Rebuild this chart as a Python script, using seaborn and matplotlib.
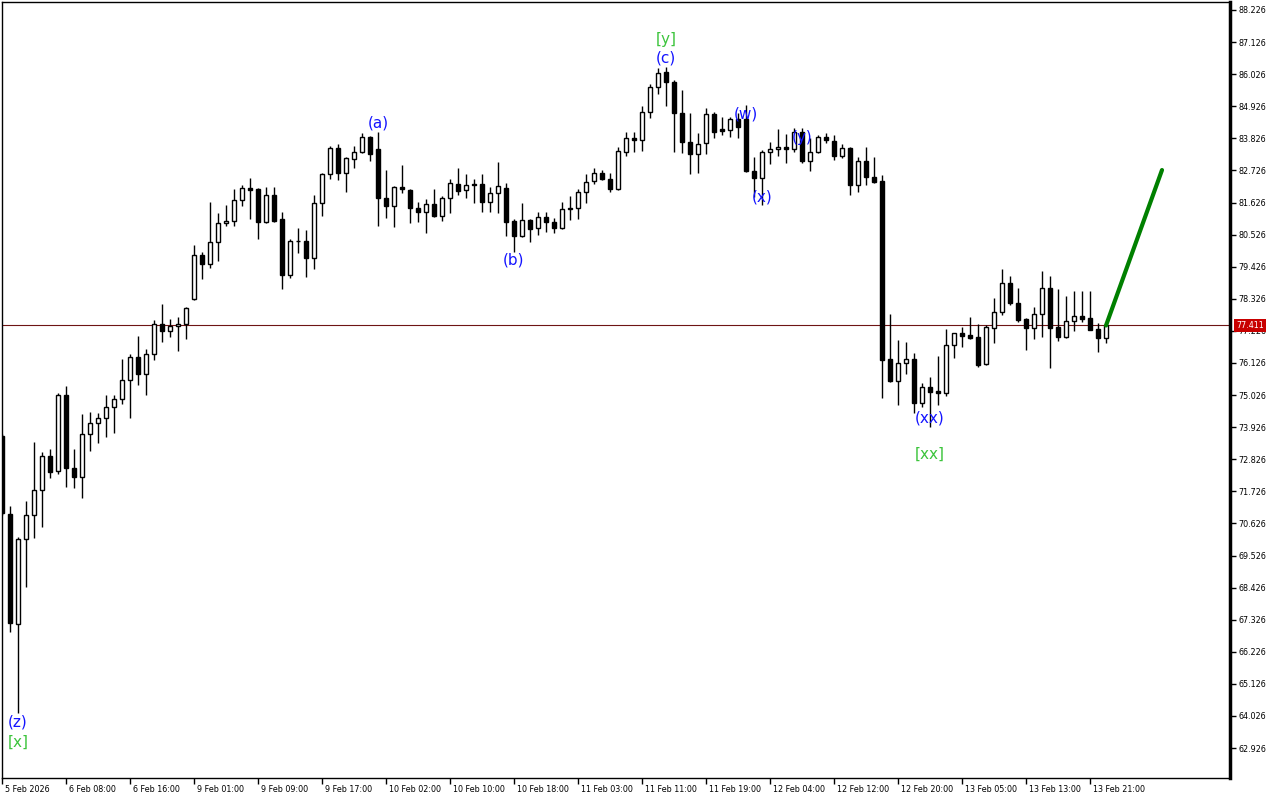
import matplotlib
matplotlib.use("Agg")
import matplotlib.pyplot as plt
import matplotlib.transforms as mtransforms
import seaborn as sns
import numpy as np
import pandas as pd

# ------------------ Data (hourly candles) ------------------
opens = [73.62, 70.95, 67.18, 70.09, 70.91, 71.77, 72.94, 72.42, 75.03, 72.53,
         72.22, 73.69, 74.07, 74.24, 74.62, 74.89, 75.54, 76.33, 75.75, 76.43,
         77.46, 77.22, 77.39, 77.46, 78.32, 79.83, 79.52, 80.27, 80.92, 80.99,
         81.71, 82.13, 82.09, 80.96, 81.88, 81.06, 79.14, 80.31, 80.31, 79.72,
         81.61, 82.60, 83.50, 82.64, 83.12, 83.36, 83.87, 83.46, 81.78, 81.51,
         82.16, 82.06, 81.44, 81.30, 81.58, 81.16, 81.78, 82.26, 82.06, 82.26,
         82.26, 81.64, 81.95, 82.12, 80.99, 80.48, 81.03, 80.75, 81.13, 80.96,
         80.75, 81.44, 81.44, 81.99, 82.36, 82.64, 82.43, 82.09, 83.36, 83.84,
         83.77, 84.73, 85.59, 86.10, 85.76, 84.70, 83.70, 83.29, 83.67, 84.66,
         84.15, 84.11, 84.49, 84.49, 82.71, 82.47, 83.36, 83.46, 83.53, 83.46,
         84.04, 83.05, 83.36, 83.87, 83.74, 83.22, 83.50, 82.23, 83.05, 82.50,
         82.36, 76.26, 75.51, 76.13, 76.26, 74.75, 75.30, 75.17, 75.10, 76.74,
         77.15, 77.08, 77.02, 76.09, 77.33, 77.87, 78.87, 78.18, 77.63, 77.33,
         77.81, 78.70, 77.36, 77.02, 77.57, 77.74, 77.67, 77.29, 76.98]
highs = [73.69, 71.22, 70.16, 71.39, 73.42, 73.07, 73.18, 75.10, 75.34, 73.18,
         74.38, 74.44, 74.41, 75.03, 75.03, 76.26, 76.43, 77.05, 76.60, 77.60,
         78.15, 77.63, 77.70, 78.05, 80.17, 79.93, 81.64, 81.27, 81.54, 82.09,
         82.23, 82.47, 82.12, 82.16, 82.16, 81.30, 80.38, 80.75, 80.68, 81.88,
         82.65, 83.56, 83.63, 83.17, 83.56, 84.01, 83.90, 84.04, 82.74, 82.18,
         82.91, 82.08, 81.64, 81.75, 82.09, 81.85, 82.43, 82.81, 82.60, 82.43,
         82.60, 82.16, 83.01, 82.30, 81.06, 81.61, 81.06, 81.30, 81.30, 81.10,
         81.64, 81.85, 82.09, 82.60, 82.81, 82.74, 82.64, 83.53, 84.04, 84.04,
         84.93, 85.69, 86.24, 86.27, 85.83, 85.48, 84.70, 84.01, 84.87, 84.73,
         84.56, 84.56, 84.70, 84.97, 83.19, 83.43, 83.70, 84.15, 83.98, 84.18,
         84.18, 83.84, 83.94, 84.01, 83.94, 83.63, 83.52, 83.19, 83.53, 83.19,
         82.57, 77.81, 76.91, 76.85, 76.47, 75.44, 75.65, 76.36, 77.29, 77.17,
         77.36, 77.70, 77.46, 77.43, 78.35, 79.35, 79.11, 78.70, 77.67, 78.04,
         79.28, 79.11, 78.66, 78.42, 78.59, 78.59, 78.59, 77.50, 77.50]
lows = [70.91, 66.90, 64.13, 68.45, 70.13, 70.50, 72.18, 72.32, 71.87, 71.84,
        71.50, 73.11, 73.38, 73.59, 73.73, 74.72, 74.24, 75.37, 75.03, 76.23,
        76.85, 77.02, 76.54, 76.95, 78.30, 79.00, 79.38, 79.62, 80.82, 80.82,
        81.51, 81.06, 80.38, 80.92, 80.97, 78.66, 79.04, 79.90, 79.07, 79.35,
        81.16, 82.43, 82.40, 81.99, 82.81, 83.32, 83.05, 80.82, 81.10, 80.79,
        81.95, 80.92, 80.96, 80.58, 81.13, 80.99, 81.27, 81.88, 81.78, 81.61,
        81.30, 81.30, 81.27, 80.48, 79.93, 80.45, 80.27, 80.51, 80.62, 80.58,
        80.72, 81.03, 81.06, 81.61, 82.26, 82.40, 81.99, 82.06, 83.22, 83.36,
        83.39, 84.52, 85.35, 84.93, 83.36, 83.32, 82.60, 82.64, 83.29, 83.84,
        83.94, 83.87, 83.84, 82.68, 81.82, 81.54, 82.95, 83.22, 82.98, 83.36,
        82.98, 82.71, 83.32, 83.67, 83.08, 83.15, 81.88, 81.99, 82.23, 82.30,
        74.92, 75.48, 74.68, 75.75, 74.41, 74.62, 73.93, 74.68, 74.99, 76.30,
        76.67, 76.95, 75.99, 76.06, 76.81, 77.77, 78.11, 77.53, 76.57, 76.95,
        77.02, 75.95, 76.88, 76.99, 77.22, 77.53, 77.24, 76.50, 76.81]
closes = [70.98, 67.21, 70.09, 70.91, 71.77, 72.94, 72.39, 75.03, 72.53, 72.22,
          73.69, 74.07, 74.24, 74.62, 74.89, 75.54, 76.33, 75.75, 76.43, 77.46,
          77.22, 77.39, 77.46, 78.01, 79.83, 79.52, 80.27, 80.92, 80.99, 81.71,
          82.13, 82.06, 80.96, 81.88, 80.99, 79.14, 80.31, 80.30, 79.72, 81.61,
          82.60, 83.50, 82.64, 83.15, 83.36, 83.87, 83.29, 81.78, 81.51, 82.16,
          82.09, 81.44, 81.30, 81.58, 81.16, 81.78, 82.30, 82.02, 82.23, 82.23,
          81.64, 81.95, 82.19, 80.96, 80.48, 81.03, 80.72, 81.13, 80.96, 80.75,
          81.40, 81.40, 81.99, 82.33, 82.64, 82.43, 82.09, 83.39, 83.84, 83.77,
          84.73, 85.59, 86.07, 85.76, 84.70, 83.70, 83.29, 83.63, 84.66, 84.04,
          84.08, 84.49, 84.22, 82.71, 82.47, 83.36, 83.46, 83.53, 83.46, 84.04,
          83.05, 83.36, 83.87, 83.77, 83.22, 83.50, 82.23, 83.05, 82.50, 82.33,
          76.23, 75.51, 76.13, 76.26, 74.75, 75.30, 75.13, 75.10, 76.74, 77.15,
          77.05, 76.98, 76.06, 77.36, 77.87, 78.87, 78.18, 77.60, 77.33, 77.81,
          78.70, 77.33, 77.02, 77.57, 77.74, 77.63, 77.26, 76.98, 77.411]

time_labels = ["5 Feb 2026", "6 Feb 08:00", "6 Feb 16:00", "9 Feb 01:00",
               "9 Feb 09:00", "9 Feb 17:00", "10 Feb 02:00", "10 Feb 10:00",
               "10 Feb 18:00", "11 Feb 03:00", "11 Feb 11:00", "11 Feb 19:00",
               "12 Feb 04:00", "12 Feb 12:00", "12 Feb 20:00", "13 Feb 05:00",
               "13 Feb 13:00", "13 Feb 21:00"]
price_ticks = [62.926, 64.026, 65.126, 66.226, 67.326, 68.426, 69.526, 70.626,
               71.726, 72.826, 73.926, 75.026, 76.126, 77.226, 78.326, 79.426,
               80.526, 81.626, 82.726, 83.826, 84.926, 86.026, 87.126, 88.226]

last_price = 77.411
target_bar = 145
target_price = 82.74

BLUE = "#1414ff"
GREEN = "#3cc43c"
wave_labels = [
    ("(z)", 2, 63.82, BLUE), ("[x]", 2, 63.13, GREEN),
    ("(a)", 47, 84.35, BLUE),
    ("(b)", 64, 79.66, BLUE),
    ("[y]", 83, 87.23, GREEN), ("(c)", 83, 86.58, BLUE),
    ("(w)", 93, 84.66, BLUE),
    ("(x)", 95, 81.82, BLUE),
    ("(y)", 100, 83.87, BLUE),
    ("(xx)", 116, 74.24, BLUE), ("[xx]", 116, 73.01, GREEN),
]

# ------------------ Plot ------------------
sns.set_theme(style="white")
plt.rcParams['font.family'] = ['DejaVu Sans']

df = pd.DataFrame({"open": opens, "high": highs, "low": lows, "close": closes})
df["idx"] = np.arange(len(df))
up = df["close"] >= df["open"]

fig = plt.figure(figsize=(12.8, 8), dpi=100)
ax = fig.add_axes([2 / 1280, 22 / 800, 1228 / 1280, 776 / 800])

ax.axhline(last_price, color="#6e1414", lw=0.8, zorder=1)

ax.vlines(df["idx"], df["low"], df["high"], color="black", lw=1, zorder=2)
body_h = (df["close"] - df["open"]).abs().clip(lower=0.02)
body_b = df[["open", "close"]].min(axis=1)
ax.bar(df["idx"], body_h, bottom=body_b, width=0.58,
       color=np.where(up, "white", "black"), edgecolor="black", lw=1, zorder=3)

sns.lineplot(x=[df["idx"].iloc[-1], target_bar], y=[closes[-1], target_price],
             color="#008000", lw=3, ax=ax, zorder=4)

for txt, xi, yv, col in wave_labels:
    ax.text(xi, yv, txt, color=col, fontsize=11, ha="center", va="center", zorder=5)

ax.set_xlim(0, 153.5)
ax.set_ylim(61.90, 88.50)

ax.yaxis.tick_right()
ax.set_yticks(price_ticks)
ax.set_yticklabels([f"{v:.3f}" for v in price_ticks])
ax.tick_params(axis="y", direction="out", length=4, width=1, pad=2,
               labelsize=5.8, colors="black", right=True)

ax.set_xticks(np.arange(0, 8 * len(time_labels), 8))
ax.set_xticklabels(time_labels, ha="left")
ax.tick_params(axis="x", direction="out", length=4, width=1, pad=1,
               labelsize=5.8, colors="black", bottom=True)
shift = mtransforms.ScaledTranslation(2 / 72, 0, fig.dpi_scale_trans)
for lbl in ax.get_xticklabels():
    lbl.set_transform(lbl.get_transform() + shift)

for side, sp in ax.spines.items():
    sp.set_color("black")
    sp.set_linewidth(2.5 if side == "right" else 1)

# price tag on the right scale (covers the 77.226 label like the terminal does)
tag_tr = mtransforms.blended_transform_factory(fig.transFigure, ax.transData)
ax.text(1236 / 1280, last_price, f"{last_price:.3f}", transform=tag_tr,
        color="white", fontsize=5.8, ha="left", va="center", zorder=10,
        bbox=dict(boxstyle="square,pad=0.25", fc="#c80000", ec="none"),
        clip_on=False)

ax.grid(False)
fig.savefig("out.png", dpi=100)
